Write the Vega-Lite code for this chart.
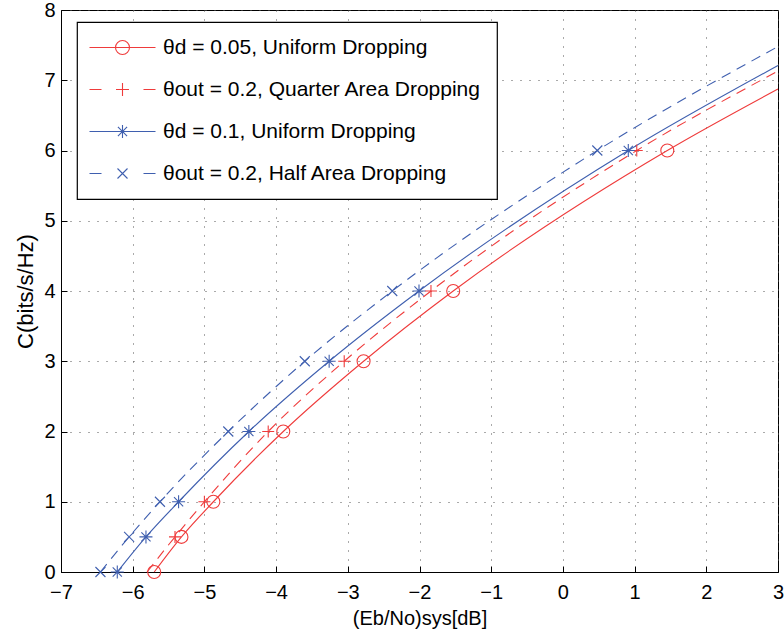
{
  "$schema": "https://vega.github.io/schema/vega-lite/v6.json",
  "width": 717,
  "height": 562,
  "autosize": {"type": "none"},
  "padding": {"left": 61, "top": 10, "right": 6, "bottom": 70},
  "background": "white",
  "config": {
    "font": "Liberation Sans",
    "view": {"stroke": "black", "strokeWidth": 1},
    "axis": {
      "grid": true,
      "gridDash": [1, 8],
      "gridColor": "#555555",
      "gridWidth": 1,
      "domainColor": "black",
      "domainWidth": 1,
      "ticks": true,
      "tickSize": -6,
      "tickColor": "black",
      "labelFontSize": 20,
      "labelColor": "black",
      "labelFont": "Liberation Sans",
      "labelOverlap": false,
      "labelFlush": false,
      "titleFontSize": 20,
      "titleFontWeight": "normal",
      "titleColor": "black",
      "titleFont": "Liberation Sans"
    },
    "legend": {
      "orient": "none",
      "legendX": 16,
      "legendY": 12,
      "fillColor": "white",
      "strokeColor": "black",
      "strokeWidth": 1.2,
      "padding": 15,
      "labelFontSize": 21,
      "labelFont": "Liberation Sans",
      "labelColor": "black",
      "labelLimit": 600,
      "symbolSize": 4,
      "symbolStrokeWidth": 1.1,
      "symbolOffset": 20,
      "labelOffset": 30,
      "rowPadding": 20
    }
  },
  "datasets": {
    "curves": [
      {"key": "a", "x": -5.70, "y": 0, "mk": 1},
      {"key": "a", "x": -5.32, "y": 0.5, "mk": 1},
      {"key": "a", "x": -4.875, "y": 1, "mk": 1},
      {"key": "a", "x": -3.90, "y": 2, "mk": 1},
      {"key": "a", "x": -2.78, "y": 3, "mk": 1},
      {"key": "a", "x": -1.53, "y": 4, "mk": 1},
      {"key": "a", "x": 1.456, "y": 6, "mk": 1},
      {"key": "a", "x": 3, "y": 6.875, "mk": 0},
      {"key": "b", "x": -5.80, "y": 0, "mk": 0},
      {"key": "b", "x": -5.41, "y": 0.5, "mk": 1},
      {"key": "b", "x": -5.0, "y": 1, "mk": 1},
      {"key": "b", "x": -4.11, "y": 2, "mk": 1},
      {"key": "b", "x": -3.05, "y": 3, "mk": 1},
      {"key": "b", "x": -1.84, "y": 4, "mk": 1},
      {"key": "b", "x": 1.03, "y": 6, "mk": 1},
      {"key": "b", "x": 3, "y": 7.13, "mk": 0},
      {"key": "c", "x": -6.215, "y": 0, "mk": 1},
      {"key": "c", "x": -5.815, "y": 0.5, "mk": 1},
      {"key": "c", "x": -5.36, "y": 1, "mk": 1},
      {"key": "c", "x": -4.38, "y": 2, "mk": 1},
      {"key": "c", "x": -3.26, "y": 3, "mk": 1},
      {"key": "c", "x": -2.007, "y": 4, "mk": 1},
      {"key": "c", "x": 0.912, "y": 6, "mk": 1},
      {"key": "c", "x": 3, "y": 7.21, "mk": 0},
      {"key": "d", "x": -6.45, "y": 0, "mk": 1},
      {"key": "d", "x": -6.05, "y": 0.5, "mk": 1},
      {"key": "d", "x": -5.62, "y": 1, "mk": 1},
      {"key": "d", "x": -4.667, "y": 2, "mk": 1},
      {"key": "d", "x": -3.60, "y": 3, "mk": 1},
      {"key": "d", "x": -2.38, "y": 4, "mk": 1},
      {"key": "d", "x": 0.48, "y": 6, "mk": 1},
      {"key": "d", "x": 3, "y": 7.48, "mk": 0}
    ],
    "legendRows": [
      {"series": "θd = 0.05, Uniform Dropping"},
      {"series": "θout = 0.2, Quarter Area Dropping"},
      {"series": "θd = 0.1, Uniform Dropping"},
      {"series": "θout = 0.2, Half Area Dropping"}
    ]
  },
  "data": {"name": "curves"},
  "layer": [
    {
      "transform": [{"filter": "datum.key == 'a'"}],
      "mark": {"type": "line", "interpolate": "monotone", "strokeWidth": 1.1, "color": "#ef3b3b"},
      "encoding": {
        "x": {
          "field": "x", "type": "quantitative",
          "scale": {"domain": [-7, 3], "nice": false, "zero": false},
          "axis": {"values": [-7, -6, -5, -4, -3, -2, -1, 0, 1, 2, 3], "format": "d", "title": "(Eb/No)sys[dB]", "labelPadding": 16, "titlePadding": 6}
        },
        "y": {
          "field": "y", "type": "quantitative",
          "scale": {"domain": [0, 8], "nice": false},
          "axis": {"values": [0, 1, 2, 3, 4, 5, 6, 7, 8], "format": "d", "title": "C(bits/s/Hz)", "titleFontSize": 22, "labelPadding": 12, "titlePadding": 6}
        }
      }
    },
    {
      "transform": [{"filter": "datum.key == 'b'"}],
      "mark": {"type": "line", "interpolate": "monotone", "strokeWidth": 1.1, "color": "#ef3b3b", "strokeDash": [10, 7]},
      "encoding": {"x": {"field": "x", "type": "quantitative"}, "y": {"field": "y", "type": "quantitative"}}
    },
    {
      "transform": [{"filter": "datum.key == 'c'"}],
      "mark": {"type": "line", "interpolate": "monotone", "strokeWidth": 1.1, "color": "#3f5faf"},
      "encoding": {"x": {"field": "x", "type": "quantitative"}, "y": {"field": "y", "type": "quantitative"}}
    },
    {
      "transform": [{"filter": "datum.key == 'd'"}],
      "mark": {"type": "line", "interpolate": "monotone", "strokeWidth": 1.1, "color": "#3f5faf", "strokeDash": [10, 7]},
      "encoding": {"x": {"field": "x", "type": "quantitative"}, "y": {"field": "y", "type": "quantitative"}}
    },
    {
      "transform": [{"filter": "datum.key == 'a' && datum.mk == 1"}],
      "mark": {"type": "point", "filled": false, "size": 4, "strokeWidth": 1.1, "opacity": 1, "color": "#ef3b3b", "shape": "M-6.5,0A6.5,6.5,0,1,1,6.5,0A6.5,6.5,0,1,1,-6.5,0"},
      "encoding": {"x": {"field": "x", "type": "quantitative"}, "y": {"field": "y", "type": "quantitative"}}
    },
    {
      "transform": [{"filter": "datum.key == 'b' && datum.mk == 1"}],
      "mark": {"type": "point", "filled": false, "size": 4, "strokeWidth": 1.1, "opacity": 1, "color": "#ef3b3b", "shape": "M-6,0H6M0,-6V6"},
      "encoding": {"x": {"field": "x", "type": "quantitative"}, "y": {"field": "y", "type": "quantitative"}}
    },
    {
      "transform": [{"filter": "datum.key == 'c' && datum.mk == 1"}],
      "mark": {"type": "point", "filled": false, "size": 4, "strokeWidth": 1.1, "opacity": 1, "color": "#3f5faf", "shape": "M-6.5,0H6.5M0,-6.5V6.5M-4.6,-4.6L4.6,4.6M-4.6,4.6L4.6,-4.6"},
      "encoding": {"x": {"field": "x", "type": "quantitative"}, "y": {"field": "y", "type": "quantitative"}}
    },
    {
      "transform": [{"filter": "datum.key == 'd' && datum.mk == 1"}],
      "mark": {"type": "point", "filled": false, "size": 4, "strokeWidth": 1.1, "opacity": 1, "color": "#3f5faf", "shape": "M-5,-5L5,5M-5,5L5,-5"},
      "encoding": {"x": {"field": "x", "type": "quantitative"}, "y": {"field": "y", "type": "quantitative"}}
    },
    {
      "data": {"name": "legendRows"},
      "transform": [{"filter": "false"}],
      "mark": {"type": "point", "filled": false, "size": 4, "strokeWidth": 1.1, "opacity": 1},
      "encoding": {
        "color": {
          "field": "series", "type": "nominal",
          "scale": {
            "domain": ["θd = 0.05, Uniform Dropping", "θout = 0.2, Quarter Area Dropping", "θd = 0.1, Uniform Dropping", "θout = 0.2, Half Area Dropping"],
            "range": ["#ef3b3b", "#ef3b3b", "#3f5faf", "#3f5faf"]
          },
          "legend": {"title": null}
        },
        "shape": {
          "field": "series", "type": "nominal",
          "scale": {
            "domain": ["θd = 0.05, Uniform Dropping", "θout = 0.2, Quarter Area Dropping", "θd = 0.1, Uniform Dropping", "θout = 0.2, Half Area Dropping"],
            "range": [
              "M-33,0H33M-7,0A7,7,0,1,1,7,0A7,7,0,1,1,-7,0",
              "M-33,0H-21M21,0H33M-6.5,0H6.5M0,-6.5V6.5",
              "M-33,0H33M0,-6.5V6.5M-4.6,-4.6L4.6,4.6M-4.6,4.6L4.6,-4.6",
              "M-33,0H-21M21,0H33M-5,-5L5,5M-5,5L5,-5"
            ]
          },
          "legend": {"title": null}
        }
      }
    }
  ]
}
